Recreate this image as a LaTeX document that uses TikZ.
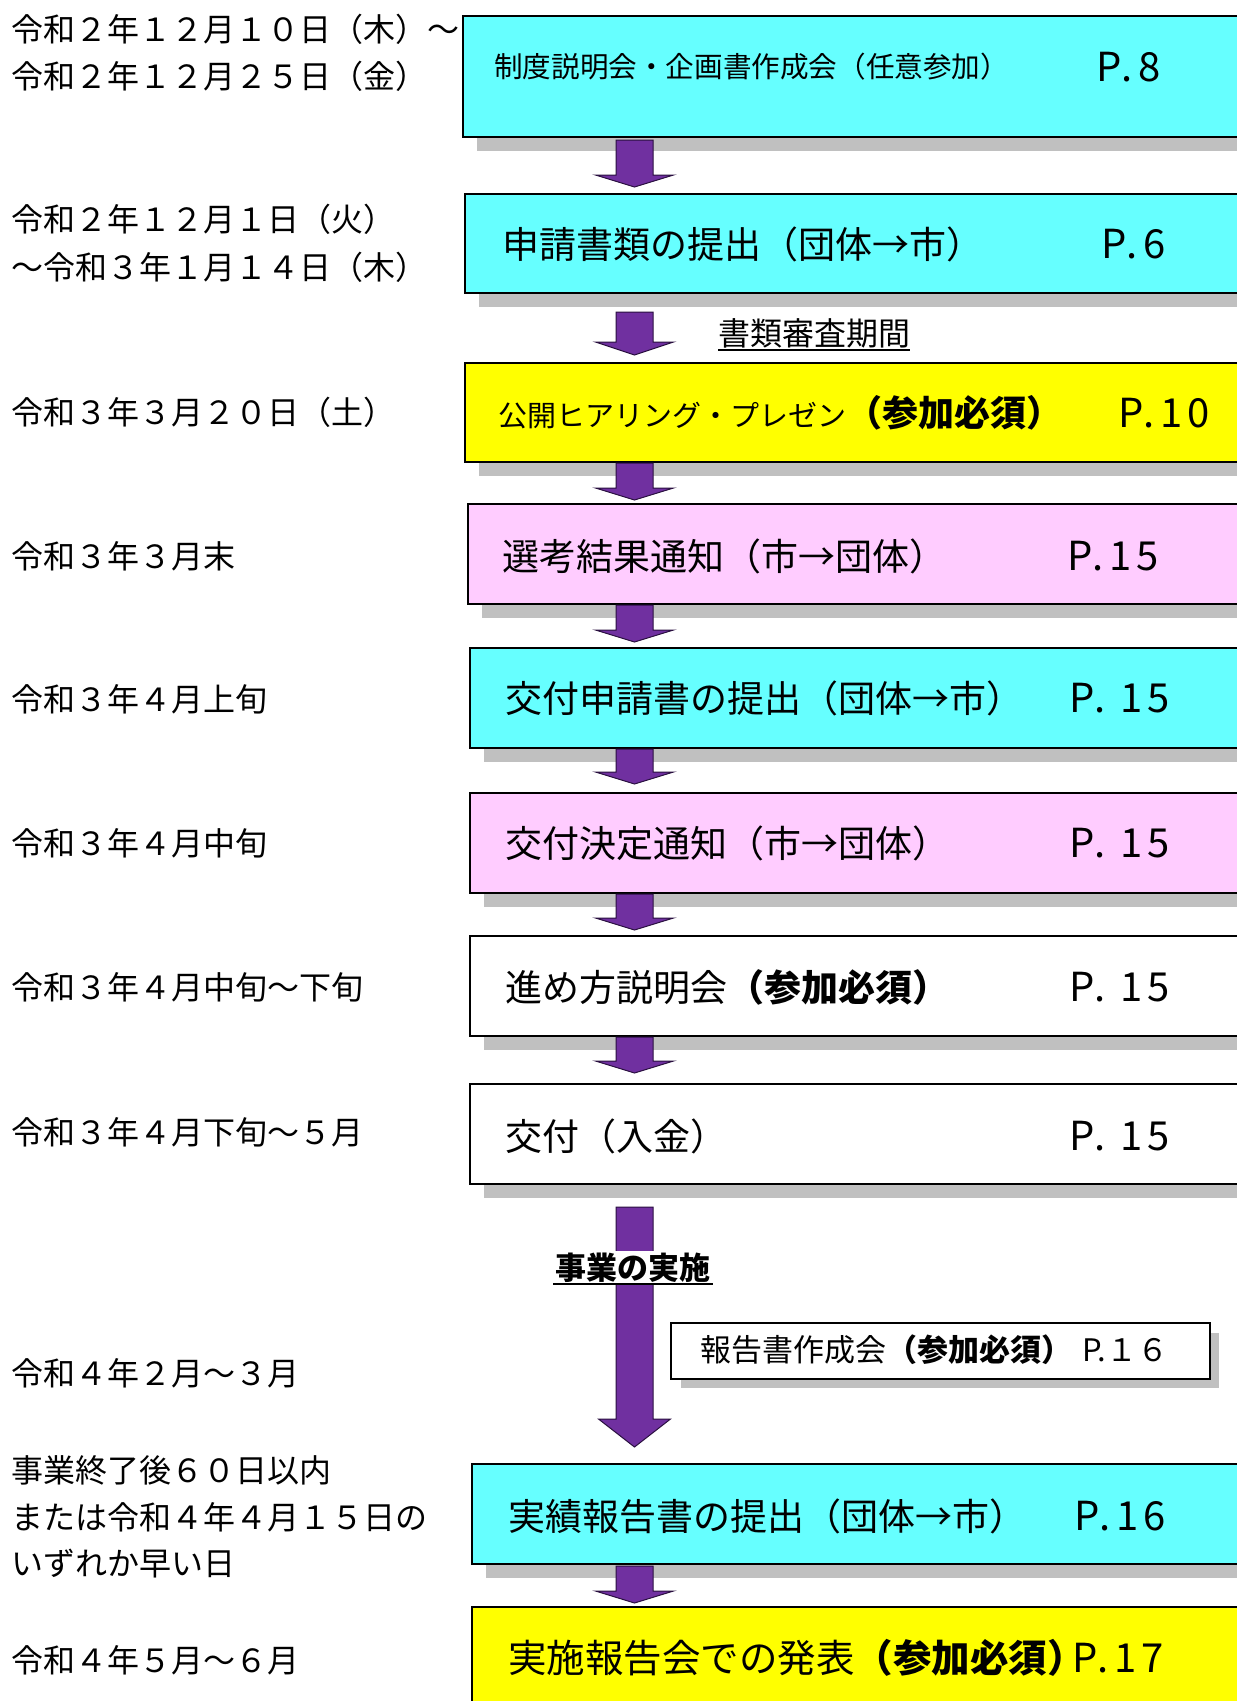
\documentclass[tikz,border=0pt]{standalone}
\usepackage{fontspec}
\newfontfamily\jp{Noto Sans CJK JP}
\newfontfamily\pf[LetterSpace=13]{Noto Sans CJK JP}
\definecolor{cyanc}{HTML}{66FFFF}
\definecolor{pinkc}{HTML}{FFCCFF}
\definecolor{yellowc}{HTML}{FFFF00}
\definecolor{shadowc}{HTML}{C0C0C0}
\definecolor{arrowc}{HTML}{7030A0}
\definecolor{arrowline}{HTML}{2A1040}
\tikzset{
 stepbox/.style={draw=black, line width=1.5pt, inner sep=0pt, anchor=north west},
 lbl/.style={anchor=west, inner sep=0pt, font=\jp\fontsize{32}{38}\selectfont},
 btxt/.style={anchor=west, inner sep=0pt, font=\jp\fontsize{37}{43}\selectfont},
 ptxt/.style={anchor=west, inner sep=0pt, font=\pf\fontsize{40}{46}\selectfont},
 fatarrow/.style={fill=arrowc, draw=arrowline, line width=1pt, line join=miter},
}
\newcommand\flowbox[5]{% name, fill, left, top, bottom
 \fill[shadowc] ({#3+15},{#4+15}) rectangle (1290,{#5+15});
 \node[stepbox, fill=#2, minimum width={1290-#3}, minimum height={#5-#4}] (#1) at (#3,#4) {};}
\newcommand\downarrowshape[4]{% top, tip, head length, head half width
 \filldraw[fatarrow] (616,#1) -- (653,#1) -- (653,{#2-#3}) -- ({634.5+#4},{#2-#3}) -- (634.5,#2) -- ({634.5-#4},{#2-#3}) -- (616,{#2-#3}) -- cycle;}
\begin{document}
\begin{tikzpicture}[x=1pt,y=-1pt]
\useasboundingbox (0,0) rectangle (1237,1701);
\fill[white] (0,0) rectangle (1237,1701);

% boxes
\flowbox{b1}{cyanc}{462}{15}{136}
\flowbox{b2}{cyanc}{464}{193}{292}
\flowbox{b3}{yellowc}{464}{362}{461}
\flowbox{b4}{pinkc}{467}{503}{603}
\flowbox{b5}{cyanc}{469}{647}{747}
\flowbox{b6}{pinkc}{469}{792}{892}
\flowbox{b7}{white}{469}{935}{1035}
\flowbox{b8}{white}{469}{1083}{1183}
\flowbox{b9}{cyanc}{471}{1463}{1563}
\flowbox{b10}{yellowc}{471}{1606}{1720}

% arrows
\downarrowshape{140}{187}{12}{39}
\downarrowshape{312}{355}{13}{39}
\downarrowshape{463}{500}{12}{39}
\downarrowshape{605}{642}{12}{39}
\downarrowshape{749}{784}{12}{39}
\downarrowshape{894}{930}{12}{39}
\downarrowshape{1037}{1073}{12}{39}
\downarrowshape{1207}{1447}{28}{36}
\downarrowshape{1566}{1603}{12}{39}

% report box
\fill[shadowc] (681,1333) rectangle (1219,1388);
\node[stepbox, fill=white, minimum width=539, minimum height=56] (rb) at (670,1322) {};
\node[anchor=west, inner sep=0pt, font=\jp\fontsize{31}{36}\selectfont] (rbt) at (700,1350) {報告書作成会{\bfseries（参加必須）}};
\node[anchor=west, inner sep=0pt, font=\jp\fontsize{31}{36}\selectfont] (rbp) at (1082,1350) {P.１６};

% arrow labels
\node[anchor=west, inner sep=0pt, font=\jp\fontsize{32}{38}\selectfont] (rev) at (718,333) {書類審査期間};
\draw[line width=1.5pt] ([yshift=-2pt]rev.south west) -- ([yshift=-2pt]rev.south east);
\node[inner sep=2pt, fill=white, font=\jp\bfseries\fontsize{31}{36}\selectfont] (impl) at (633,1268) {事業の実施};
\draw[line width=1.5pt] ([yshift=1pt]impl.south west) -- ([yshift=1pt]impl.south east);

% box texts
\node[anchor=west, inner sep=0pt, font=\jp\fontsize{28.6}{34}\selectfont] (t1) at (494,67) {制度説明会・企画書作成会（任意参加）};
\node[ptxt] (p1) at (1096,67) {P.8};
\node[btxt] (t2) at (502,244) {申請書類の提出（団体→市）};
\node[ptxt] (p2) at (1101,244) {P.6};
\node[anchor=west, inner sep=0pt, font=\jp\fontsize{29}{34}\selectfont] (t3) at (498,413) {公開ヒアリング・プレゼン{\bfseries\fontsize{36}{40}\selectfont（参加必須）}};
\node[ptxt] (p3) at (1118,413) {P.10};
\node[btxt] (t4) at (502,556) {選考結果通知（市→団体）};
\node[ptxt] (p4) at (1067,556) {P.15};
\node[btxt] (t5) at (505,698) {交付申請書の提出（団体→市）};
\node[ptxt] (p5) at (1069,698) {P. 15};
\node[btxt] (t6) at (505,843) {交付決定通知（市→団体）};
\node[ptxt] (p6) at (1069,843) {P. 15};
\node[btxt] (t7) at (505,987) {進め方説明会{\bfseries（参加必須）}};
\node[ptxt] (p7) at (1069,987) {P. 15};
\node[btxt] (t8) at (505,1136) {交付（入金）};
\node[ptxt] (p8) at (1069,1136) {P. 15};
\node[btxt] (t9) at (508,1516) {実績報告書の提出（団体→市）};
\node[ptxt] (p9) at (1074,1516) {P.16};
\node[anchor=west, inner sep=0pt, font=\jp\fontsize{38.5}{44}\selectfont] (t10) at (508,1658) {実施報告会での発表{\bfseries（参加必須）}};
\node[ptxt] (p10) at (1072,1658) {P.17};

% left labels
\node[lbl] (l1a) at (11,29) {令和２年１２月１０日（木）～};
\node[lbl] (l1b) at (11,76) {令和２年１２月２５日（金）};
\node[lbl] (l2a) at (11,219) {令和２年１２月１日（火）};
\node[lbl] (l2b) at (11,267) {～令和３年１月１４日（木）};
\node[lbl] (l3) at (11,412) {令和３年３月２０日（土）};
\node[lbl] (l4) at (11,556) {令和３年３月末};
\node[lbl] (l5) at (11,699) {令和３年４月上旬};
\node[lbl] (l6) at (11,843) {令和３年４月中旬};
\node[lbl] (l7) at (11,987) {令和３年４月中旬～下旬};
\node[lbl] (l8) at (11,1132) {令和３年４月下旬～５月};
\node[lbl] (l9) at (11,1373) {令和４年２月～３月};
\node[lbl] (l10a) at (11,1470) {事業終了後６０日以内};
\node[lbl] (l10b) at (11,1517) {または令和４年４月１５日の};
\node[lbl] (l10c) at (11,1564) {いずれか早い日};
\node[lbl] (l11) at (11,1660) {令和４年５月～６月};
\end{tikzpicture}
\end{document}
